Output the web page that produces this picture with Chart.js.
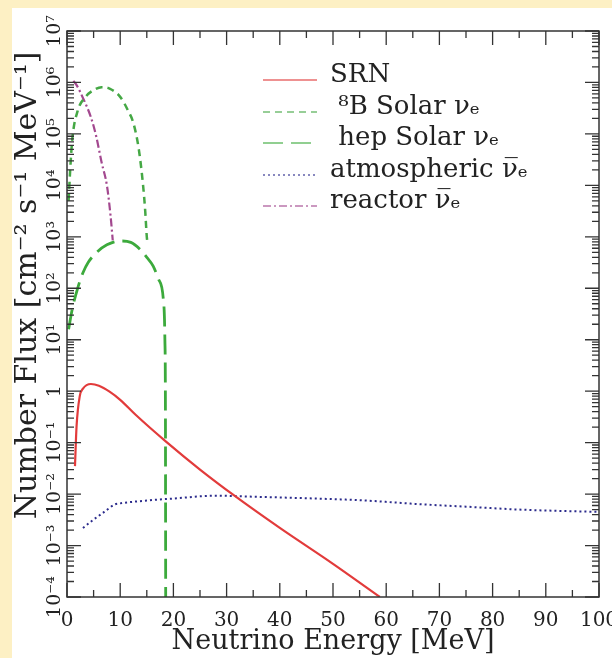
<!DOCTYPE html>
<html>
<head>
<meta charset="utf-8">
<script src="https://cdn.jsdelivr.net/npm/chart.js@4.4.1/dist/chart.umd.min.js"></script>
<style>
html, body { margin: 0; padding: 0; background: #fdf0c4; }
#wrap { position: absolute; left: 12px; top: 8px; width: 600px; height: 650px; background: #fff; }
</style>
</head>
<body>
<div id="wrap"><canvas id="myChart" width="600" height="650"></canvas></div>
<script>
// energies in MeV, flux in cm^-2 s^-1 MeV^-1
var srnE = [1.5, 1.8, 2.4, 3, 4.5, 6, 8, 10, 13, 18.5, 25, 31.6, 40, 50, 58.8];
var srnFlux = [0.035, 0.21, 0.8, 1.12, 1.38, 1.28, 0.98, 0.68, 0.34, 0.107, 0.030, 0.0091, 0.0022, 0.00044, 0.0001];

var b8E = [0.3, 0.6, 1, 2, 3.5, 5, 6.5, 8, 10, 11.5, 12.5, 13.5, 14.3, 14.7, 15, 15.2];
var b8Flux = [5000, 20000, 80000, 280000, 525000, 710000, 810000, 760000, 525000, 280000, 160000, 50000, 10000, 3200, 1000, 700];

var hepE = [0.3, 1, 2, 3, 4, 5.6, 7.5, 10, 12, 13.7, 15, 16.2, 17.2, 18.1, 18.4, 18.5, 18.55];
var hepFlux = [16, 40, 100, 200, 320, 500, 700, 830, 780, 575, 400, 270, 150, 62, 10, 0.5, 0.0001];

var atmE = [3, 5, 7, 9, 10, 15, 20, 28, 35, 45, 55, 67, 75, 85, 100];
var atmFlux = [0.0022, 0.0032, 0.0045, 0.0063, 0.0066, 0.0075, 0.0082, 0.0093, 0.0089, 0.0083, 0.0076, 0.0063, 0.0057, 0.0050, 0.0045];

var reactorE = [1.2, 1.8, 3, 4.5, 5.5, 6.5, 7.5, 8.2, 8.6];
var reactorFlux = [1.07e6, 8.9e5, 5.0e5, 2.1e5, 8.9e4, 2.8e4, 1.0e4, 2.5e3, 850];

var seriesNames = ["SRN", " \u2078B Solar \u03bd\u2091", " hep Solar \u03bd\u2091", "atmospheric \u03bd\u0305\u2091", "reactor \u03bd\u0305\u2091"];

var xTickVals = [0, 10, 20, 30, 40, 50, 60, 70, 80, 90, 100];
var xTickLabels = ["0", "10", "20", "30", "40", "50", "60", "70", "80", "90", "100"];
var yTickVals = [1e-4, 1e-3, 1e-2, 1e-1, 1, 1e1, 1e2, 1e3, 1e4, 1e5, 1e6, 1e7];
var yTickLabels = ["10\u207b\u2074", "10\u207b\u00b3", "10\u207b\u00b2", "10\u207b\u00b9", "1", "10\u00b9", "10\u00b2", "10\u00b3", "10\u2074", "10\u2075", "10\u2076", "10\u2077"];

var serif = "'DejaVu Serif', 'Liberation Serif', serif";

function pts(xs, ys) {
    return xs.map(function (e, i) { return {x: e, y: ys[i]}; });
}

// box with inward ticks on all four sides
const frameTicks = {
    id: 'frameTicks',
    afterDatasetsDraw(chart) {
        const {ctx, chartArea: a, scales: {x, y}} = chart;
        ctx.save();
        ctx.strokeStyle = '#333';
        ctx.lineWidth = 1.5;
        ctx.strokeRect(a.left, a.top, a.right - a.left, a.bottom - a.top);
        ctx.lineWidth = 1.3;
        ctx.beginPath();
        for (let v = 0; v <= 100; v += 5) {
            const px = x.getPixelForValue(v);
            const len = v % 10 === 0 ? 14 : 7;
            ctx.moveTo(px, a.bottom); ctx.lineTo(px, a.bottom - len);
            ctx.moveTo(px, a.top); ctx.lineTo(px, a.top + len);
        }
        for (let d = -4; d <= 7; d++) {
            for (let m = 1; m < 10; m++) {
                if (d === 7 && m > 1) break;
                const py = y.getPixelForValue(m * Math.pow(10, d));
                const len = m === 1 ? 14 : 7;
                ctx.moveTo(a.left, py); ctx.lineTo(a.left + len, py);
                ctx.moveTo(a.right, py); ctx.lineTo(a.right - len, py);
            }
        }
        ctx.stroke();
        ctx.restore();
    }
};

// legend drawn inside the plot, upper right
const innerLegend = {
    id: 'innerLegend',
    afterDraw(chart) {
        const ctx = chart.ctx;
        const baseY = [74, 106, 137, 169, 200];
        ctx.save();
        chart.data.datasets.forEach(function (ds, i) {
            const yb = baseY[i];
            ctx.strokeStyle = ds.borderColor;
            ctx.globalAlpha = 0.75;
            ctx.lineWidth = 1.5;
            ctx.setLineDash(ds.borderDash || []);
            ctx.beginPath();
            ctx.moveTo(251, yb - 2);
            ctx.lineTo(305, yb - 2);
            ctx.stroke();
            ctx.globalAlpha = 1;
            ctx.setLineDash([]);
            ctx.fillStyle = '#222';
            ctx.font = "26px " + serif;
            ctx.textBaseline = 'alphabetic';
            ctx.fillText(ds.label, 318, yb);
        });
        ctx.restore();
    }
};

new Chart("myChart", {
    type: "scatter",
    data: {
        datasets: [
            {label: seriesNames[0], data: pts(srnE, srnFlux), borderColor: "#e23b3b", borderWidth: 2.2},
            {label: seriesNames[1], data: pts(b8E, b8Flux), borderColor: "#45a845", borderWidth: 2.5, borderDash: [7, 5]},
            {label: seriesNames[2], data: pts(hepE, hepFlux), borderColor: "#3caa3c", borderWidth: 2.8, borderDash: [20, 8]},
            {label: seriesNames[3], data: pts(atmE, atmFlux), borderColor: "#2b2b8c", borderWidth: 2, borderDash: [2, 3]},
            {label: seriesNames[4], data: pts(reactorE, reactorFlux), borderColor: "#a3488f", borderWidth: 2.2, borderDash: [8, 3, 2, 3]}
        ]
    },
    options: {
        responsive: false,
        animation: false,
        events: [],
        showLine: true,
        elements: {
            point: {radius: 0},
            line: {cubicInterpolationMode: 'monotone'}
        },
        layout: {padding: {top: 23, right: 13, bottom: 0, left: 0}},
        scales: {
            x: {
                type: 'linear', min: 0, max: 100,
                afterBuildTicks: function (s) { s.ticks = xTickVals.map(function (v) { return {value: v}; }); },
                afterFit: function (s) { s.height = 61; s.paddingLeft = 0; s.paddingRight = 0; },
                grid: {display: false, drawTicks: false},
                border: {display: false},
                ticks: {
                    autoSkip: false, minRotation: 0, maxRotation: 0, padding: 12,
                    color: '#222', font: {family: serif, size: 20},
                    callback: function (v, i) { return xTickLabels[i]; }
                },
                title: {
                    display: true, text: 'Neutrino Energy [MeV]', color: '#222',
                    font: {family: serif, size: 27}, padding: {top: 0, bottom: 0}
                }
            },
            y: {
                type: 'logarithmic', min: 1e-4, max: 1e7,
                afterBuildTicks: function (s) { s.ticks = yTickVals.map(function (v) { return {value: v}; }); },
                afterFit: function (s) { s.width = 55; s.paddingTop = 0; s.paddingBottom = 0; },
                grid: {display: false, drawTicks: false},
                border: {display: false},
                ticks: {
                    autoSkip: false, minRotation: 90, maxRotation: 90, crossAlign: 'center', padding: -9,
                    color: '#222', font: {family: serif, size: 19},
                    callback: function (v, i) { return yTickLabels[i]; }
                },
                title: {
                    display: true, text: '      Number Flux [cm\u207b\u00b2 s\u207b\u00b9 MeV\u207b\u00b9]', color: '#222',
                    font: {family: serif, size: 30}, padding: {top: -2, bottom: 0}
                }
            }
        },
        plugins: {
            legend: {display: false},
            tooltip: {enabled: false}
        }
    },
    plugins: [frameTicks, innerLegend]
});
</script>
</body>
</html>
